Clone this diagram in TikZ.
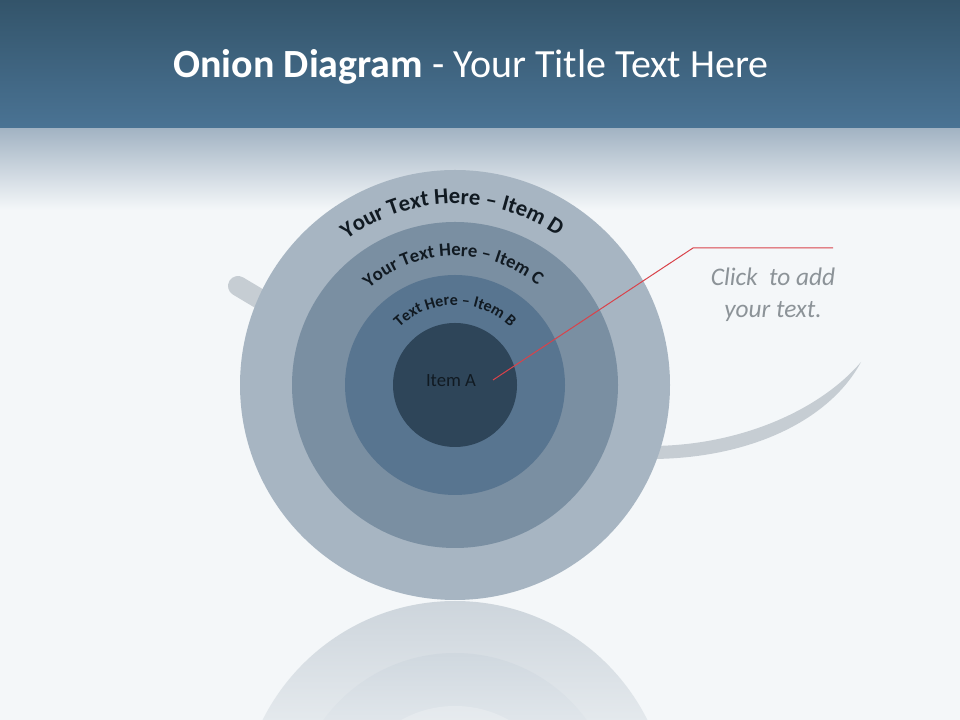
\documentclass[tikz,border=0pt]{standalone}
\usepackage{fontspec}
\setmainfont{Carlito}
\usetikzlibrary{decorations.text,fadings}

\definecolor{bgpale}{HTML}{F4F7F9}
\definecolor{hdtop}{HTML}{33546A}
\definecolor{hdbot}{HTML}{4A7394}
\definecolor{bandtop}{HTML}{A2B3C3}
\definecolor{ringD}{HTML}{A7B5C2}
\definecolor{ringC}{HTML}{7A8FA2}
\definecolor{ringB}{HTML}{587590}
\definecolor{ringA}{HTML}{2E4559}
\definecolor{refD}{HTML}{CDD5DC}
\definecolor{refC}{HTML}{C3CDD6}
\definecolor{refB}{HTML}{D3DAE0}
\definecolor{refA}{HTML}{CDD5DC}
\definecolor{handlegray}{HTML}{C6CDD3}
\definecolor{calloutred}{HTML}{D9424A}
\definecolor{clickgray}{HTML}{8C9398}
\definecolor{itemtext}{HTML}{111A22}

\tikzset{
  ringlabel/.style={decorate,decoration={text along path,text align=center,text color=itemtext,text={#1}}}
}

\begin{document}
\begin{tikzpicture}[x=0.75pt,y=0.75pt]
  \useasboundingbox (0,0) rectangle (960,720);

  % background and header
  \fill[bgpale] (0,0) rectangle (960,720);
  \shade[top color=bandtop,bottom color=bgpale] (0,510) rectangle (960,592);
  \shade[top color=hdtop,bottom color=hdbot] (0,592) rectangle (960,720);
  \node[text=white,font=\fontsize{30}{36}\selectfont] (title) at (471,653)
    {\textbf{Onion Diagram} - Your Title Text Here};

  % handle and swoosh behind the onion
  \draw[handlegray,line width=15pt,line cap=round] (238,434) -- (300,397);
  \fill[handlegray] (861,358) .. controls (820,310) and (740,274) .. (650,274)
    -- (650,261) .. controls (750,261) and (830,300) .. (861,358);

  % reflection
  \coordinate (mirror) at (455,-96);
  \fill[refD] (mirror) circle (215);
  \fill[refC] (mirror) circle (163);
  \fill[refB] (mirror) circle (110);
  \fill[refA] (mirror) circle (62);
  \fill[bgpale,opacity=0.6,path fading=north] (0,0) rectangle (960,121);

  % onion rings
  \coordinate (ctr) at (455,335);
  \fill[ringD] (ctr) circle (215);
  \fill[ringC] (ctr) circle (163);
  \fill[ringB] (ctr) circle (110);
  \fill[ringA] (ctr) circle (62);

  \path[ringlabel={|\bfseries\fontsize{17}{20}\selectfont|Your Text Here – Item D}]
    ([shift={(171:181)}]ctr) arc[start angle=171,end angle=11,radius=181];
  \path[ringlabel={|\bfseries\fontsize{14}{17}\selectfont|Your Text Here – Item C}]
    ([shift={(171:129)}]ctr) arc[start angle=171,end angle=11,radius=129];
  \path[ringlabel={|\bfseries\fontsize{12}{14}\selectfont|Text Here – Item B}]
    ([shift={(170:80)}]ctr) arc[start angle=170,end angle=10,radius=80];
  \node[text=itemtext,font=\fontsize{14}{17}\selectfont] (itemA) at (451,339) {Item A};

  % callout
  \coordinate (pin) at (493,340);
  \coordinate (elbow) at (693,472);
  \coordinate (tail) at (833,472);
  \draw[calloutred,line width=0.75pt] (pin) -- (elbow) -- (tail);
  \node[align=center,text=clickgray,font=\itshape\fontsize{19}{24}\selectfont] (clicktext) at (773,425)
    {Click\ \ to add\\your text.};
\end{tikzpicture}
\end{document}
